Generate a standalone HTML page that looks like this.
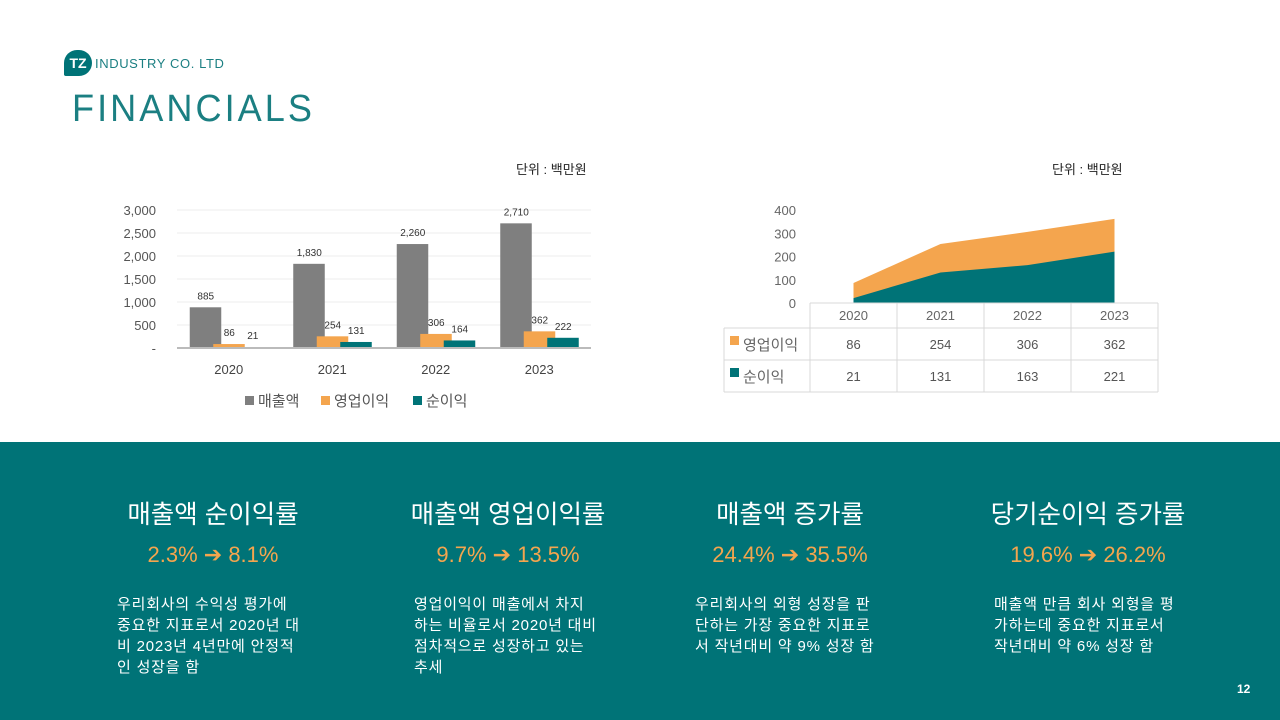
<!DOCTYPE html>
<html><head><meta charset="utf-8"><style>
body{margin:0;width:1280px;height:720px;overflow:hidden;background:#fff;font-family:"Liberation Sans","Noto Sans CJK KR",sans-serif;position:relative}
.abs{position:absolute}
.band{left:0;top:442px;width:1280px;height:278px;background:#007377}
.col{position:absolute;top:0;width:300px;text-align:center;color:#fff}
.col h2{margin:0;position:absolute;top:52px;width:100%;font-size:25.5px;font-weight:normal}
.col .pct{position:absolute;top:100px;width:100%;font-size:22px;color:#f4a54e}
.col p{position:absolute;top:152px;margin:0;width:230px;text-align:left;font-size:15px;line-height:21px;white-space:nowrap;letter-spacing:0.8px}
</style></head><body>
<div class="abs" style="left:64px;top:50px;width:28px;height:26px;background:#007377;border-radius:14px 14px 14px 2px;color:#fff;font-size:14px;font-weight:bold;text-align:center;line-height:26px">TZ</div>
<div class="abs" style="left:95px;top:56px;font-size:13px;color:#1b7f82;letter-spacing:0.6px">INDUSTRY CO. LTD</div>
<div class="abs" style="left:72px;top:88px;font-size:38px;color:#1b7f82;letter-spacing:3.2px;transform:scaleX(0.95);transform-origin:left">FINANCIALS</div>
<div class="abs" style="left:516px;top:159px;font-size:13px;color:#222">단위 : 백만원</div>
<div class="abs" style="left:1052px;top:159px;font-size:13px;color:#222">단위 : 백만원</div>
<svg class="abs" style="left:0;top:0" width="1280" height="442" id="svg"></svg>
<div class="abs band">
<div class="col" style="left:63px"><h2>매출액 순이익률</h2><div class="pct">2.3% ➔ 8.1%</div><p style="left:54px">우리회사의 수익성 평가에<br>중요한 지표로서 2020년 대<br>비 2023년 4년만에 안정적<br>인 성장을 함</p></div>
<div class="col" style="left:358px"><h2>매출액 영업이익률</h2><div class="pct">9.7% ➔ 13.5%</div><p style="left:56px">영업이익이 매출에서 차지<br>하는 비율로서 2020년 대비<br>점차적으로 성장하고 있는<br>추세</p></div>
<div class="col" style="left:640px"><h2>매출액 증가률</h2><div class="pct">24.4% ➔ 35.5%</div><p style="left:55px">우리회사의 외형 성장을 판<br>단하는 가장 중요한 지표로<br>서 작년대비 약 9% 성장 함</p></div>
<div class="col" style="left:938px"><h2>당기순이익 증가률</h2><div class="pct">19.6% ➔ 26.2%</div><p style="left:56px">매출액 만큼 회사 외형을 평<br>가하는데 중요한 지표로서<br>작년대비 약 6% 성장 함</p></div>
<div class="abs" style="left:1237px;top:240px;font-size:12px;font-weight:bold;color:#fff">12</div>
</div>
<script>
const years=["2020","2021","2022","2023"];
const sales=[885,1830,2260,2710];
const opIncome=[86,254,306,362];
const netIncome=[21,131,164,222];
const barTicks=[0,500,1000,1500,2000,2500,3000];
const areaOp=[86,254,306,362];
const areaNet=[21,131,163,221];
const areaTicks=[0,100,200,300,400];
const NS="http://www.w3.org/2000/svg";
const svg=document.getElementById('svg');
function mk(t,a,txt){const e=document.createElementNS(NS,t);for(const k in a)e.setAttribute(k,a[k]);if(txt!=null)e.textContent=txt;svg.appendChild(e);return e;}
const GREY="#7f7f7f",ORANGE="#f4a54e",TEAL="#007377";
const bx0=177,bx1=591,by0=348,by1=210;
const by=v=>by0-(v/3000)*(by0-by1);
const cw=(bx1-bx0)/years.length;
barTicks.forEach(t=>{
 if(t>0){const l=mk('line',{x1:bx0,x2:bx1,y1:by(t),y2:by(t),stroke:'#eeeeee'});}
 const tx=mk('text',{x:156,y:by(t)+5,'text-anchor':'end','font-size':13,fill:'#555'},t===0?'-':t.toLocaleString('en-US'));
 
});
const series=[[sales,GREY],[opIncome,ORANGE],[netIncome,TEAL]];
years.forEach((y,i)=>{
 const c=bx0+cw*(i+0.5);
 series.forEach(([arr,col],j)=>{
  const x=c-39+j*23.5,v=arr[i];
  const r=mk('rect',{x:x,y:by(v),width:31.5,height:by0-by(v),fill:col});
  
  const t=mk('text',{x:x+16,y:by(v)-8,'text-anchor':'middle','font-size':10,fill:'#333'},v.toLocaleString('en-US'));
  
 });
 const t=mk('text',{x:c,y:374,'text-anchor':'middle','font-size':13,fill:'#444'},y);
 
});
const ax=mk('line',{x1:bx0,x2:bx1,y1:by0,y2:by0,stroke:'#bbb','stroke-width':2});

[["매출액",GREY,245],["영업이익",ORANGE,321],["순이익",TEAL,413]].forEach(([n,c,x])=>{
 const r=mk('rect',{x:x,y:396,width:9,height:9,fill:c});
 const t=mk('text',{x:x+13,y:406,'font-size':15,fill:'#555'},n);
});
const ax0=810,acw=87,ay0=303,ay1=210;
const ayf=v=>ay0-(v/400)*(ay0-ay1);
const axf=i=>ax0+acw*(i+0.5);
areaTicks.forEach(t=>{const tx=mk('text',{x:796,y:ayf(t)+5,'text-anchor':'end','font-size':13,fill:'#666'},t);});
function area(arr,col,name){let d='M'+axf(0)+','+ay0;arr.forEach((v,i)=>d+=' L'+axf(i)+','+ayf(v));d+=' L'+axf(arr.length-1)+','+ay0+' Z';const p=mk('path',{d:d,fill:col});}
area(areaOp,ORANGE,'area-operating-income');
area(areaNet,TEAL,'area-net-income');
const tb='#d9d9d9';
mk('line',{x1:ax0,x2:ax0+acw*4,y1:303,y2:303,stroke:tb});
mk('line',{x1:724,x2:ax0+acw*4,y1:328,y2:328,stroke:tb});
mk('line',{x1:724,x2:ax0+acw*4,y1:360,y2:360,stroke:tb});
mk('line',{x1:724,x2:ax0+acw*4,y1:392,y2:392,stroke:tb});
mk('line',{x1:724,x2:724,y1:328,y2:392,stroke:tb});
for(let i=0;i<=4;i++)mk('line',{x1:ax0+acw*i,x2:ax0+acw*i,y1:303,y2:392,stroke:tb});
years.forEach((y,i)=>{
 const t=mk('text',{x:axf(i),y:320,'text-anchor':'middle','font-size':13,fill:'#666'},y);
 const a=mk('text',{x:axf(i),y:349,'text-anchor':'middle','font-size':13,fill:'#555'},areaOp[i]);
 const b=mk('text',{x:axf(i),y:381,'text-anchor':'middle','font-size':13,fill:'#555'},areaNet[i]);
});
[["영업이익",ORANGE,336,350],["순이익",TEAL,368,382]].forEach(([n,c,ry,ty])=>{
 const r=mk('rect',{x:730,y:ry,width:9,height:9,fill:c});
 const t=mk('text',{x:743,y:ty,'font-size':15,fill:'#666'},n);
});
</script>
</body></html>
